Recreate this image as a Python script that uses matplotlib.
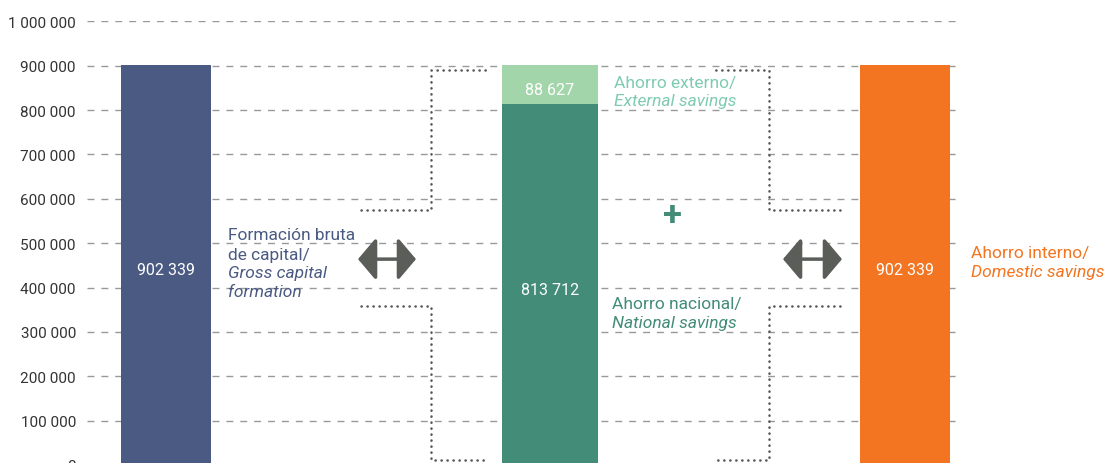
import matplotlib
matplotlib.use("Agg")
import matplotlib.pyplot as plt
from matplotlib.patches import FancyArrowPatch
from matplotlib.ticker import FuncFormatter

plt.rcParams['font.family'] = ['Roboto', 'DejaVu Sans']

# ---- data ----
gross_capital = [902339]
national_savings = [813712]
external_savings = [88627]
domestic_savings = [902339]
bar_labels = ["902 339", "813 712", "88 627", "902 339"]
label_gcf = ["Formación bruta", "de capital/"]
label_gcf_en = ["Gross capital", "formation"]
label_ext = "Ahorro externo/"
label_ext_en = "External savings"
label_nat = "Ahorro nacional/"
label_nat_en = "National savings"
label_dom = "Ahorro interno/"
label_dom_en = "Domestic savings"
yticks = list(range(0, 1000001, 100000))

# ---- colours ----
c_gcf = "#4a5a82"
c_nat = "#428c78"
c_ext = "#a3d5aa"
c_ext_txt = "#7fcbb0"
c_dom = "#f37521"
c_dots = "#555555"
c_arrow = "#5b5d59"

W, H = 1109, 464
fig = plt.figure(figsize=(W / 100, H / 100), dpi=100)
ax = fig.add_axes([87 / W, (H - 466) / H, 870 / W, (466 - 22.3) / H])
ax.set_xlim(87, 957)
ax.set_ylim(0, 1000000)

# layout (x positions in axis units)
x1, x2, x3 = 166, 550, 905
w1, w2, w3 = 90, 96, 90

ax.bar([x1], gross_capital, width=w1, color=c_gcf, zorder=3)
ax.bar([x2], national_savings, width=w2, color=c_nat, zorder=3)
ax.bar([x2], external_savings, width=w2, bottom=national_savings, color=c_ext, zorder=3)
ax.bar([x3], domestic_savings, width=w3, color=c_dom, zorder=3)

fs = 11.5
lab_kw = dict(color="white", ha="center", va="center", fontsize=fs, zorder=4,
              textcoords="offset points", xytext=(0, -3.5))
ax.annotate(bar_labels[0], (x1, gross_capital[0] / 2), **lab_kw)
ax.annotate(bar_labels[1], (x2, national_savings[0] / 2), **lab_kw)
ax.annotate(bar_labels[2], (x2, national_savings[0] + external_savings[0] / 2), **lab_kw)
ax.annotate(bar_labels[3], (x3, domestic_savings[0] / 2), **lab_kw)

# grid
ax.set_yticks(yticks)
ax.yaxis.set_major_formatter(FuncFormatter(lambda v, p: f"{int(v):,}".replace(",", " ")))
ax.grid(axis="y", color="#999999", linestyle=(0, (5, 5)), linewidth=1, zorder=0)
ax.set_xticks([])
for s in ax.spines.values():
    s.set_visible(False)
ax.tick_params(axis="y", length=0, pad=8, labelsize=11, labelcolor="#333333")

# dotted connectors
dot_kw = dict(color=c_dots, linestyle=(0, (0.1, 2.3)), linewidth=1.8, dash_capstyle="round",
              solid_capstyle="round", zorder=2, clip_on=False)
y_top, y_up, y_lo, y_bot = 890000, 575000, 358000, 11000
ax.plot([361, 431, 431, 487], [y_up, y_up, y_top, y_top], **dot_kw)
ax.plot([361, 431, 431, 487], [y_lo, y_lo, y_bot, y_bot], **dot_kw)
ax.plot([840, 769, 769, 713], [y_up, y_up, y_top, y_top], **dot_kw)
ax.plot([840, 769, 769, 713], [y_lo, y_lo, y_bot, y_bot], **dot_kw)

# double arrows
y_arr = 464000
for xa, xb in [(358, 416), (783, 842)]:
    arr = FancyArrowPatch((xa, y_arr), (xb, y_arr),
                          arrowstyle="<|-|>,head_length=0.55,head_width=0.65",
                          mutation_scale=20, color=c_arrow, linewidth=2.5, zorder=4,
                          shrinkA=0, shrinkB=0)
    ax.add_patch(arr)

# plus sign
ax.text(673, 563000, "+", color=c_nat, fontsize=25, fontweight="bold", ha="center", va="center")

# labels
lfs = 12.5
for txt, yv, st in [(label_gcf[0], 520000, "normal"), (label_gcf[1], 474000, "normal"),
                    (label_gcf_en[0], 433000, "italic"), (label_gcf_en[1], 392000, "italic")]:
    ax.text(228, yv, txt, color=c_gcf, fontsize=lfs, ha="left", va="center", style=st)
ax.text(614, 863000, label_ext, color=c_ext_txt, fontsize=lfs, ha="left", va="center")
ax.text(614, 822000, label_ext_en, color=c_ext_txt, fontsize=lfs, ha="left", va="center", style="italic")
ax.text(612, 363000, label_nat, color=c_nat, fontsize=lfs, ha="left", va="center")
ax.text(612, 322000, label_nat_en, color=c_nat, fontsize=lfs, ha="left", va="center", style="italic")
ax.text(971, 480000, label_dom, color=c_dom, fontsize=lfs, ha="left", va="center", clip_on=False)
ax.text(971, 437000, label_dom_en, color=c_dom, fontsize=lfs, ha="left", va="center", style="italic", clip_on=False)

fig.savefig("out.png", dpi=100)
